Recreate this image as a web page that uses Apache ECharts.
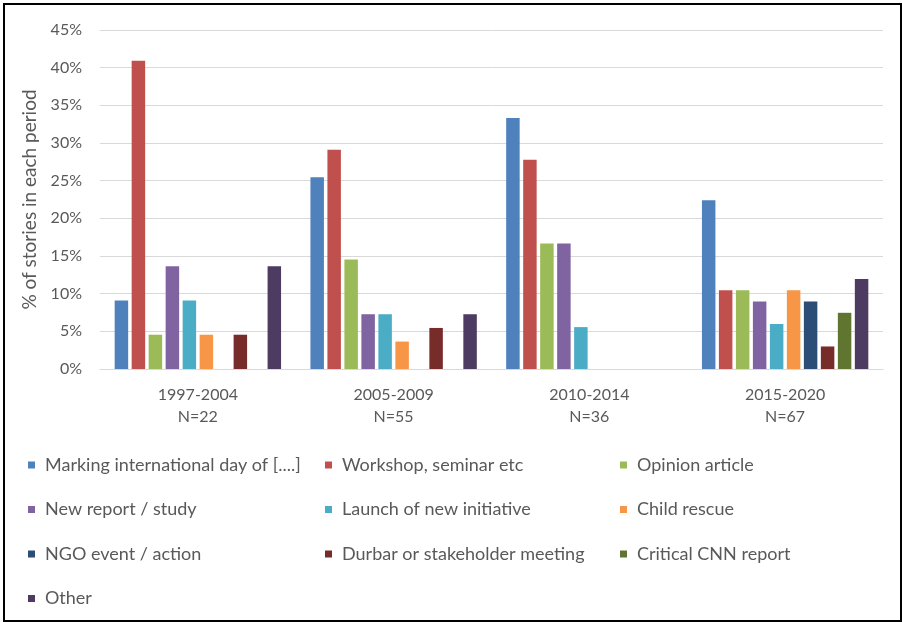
<!DOCTYPE html>
<html>
<head>
<meta charset="utf-8">
<script src="https://cdn.jsdelivr.net/npm/echarts@6/dist/echarts.min.js"></script>
<style>
  html, body { margin: 0; padding: 0; background: #ffffff; }
  #chart { width: 902px; height: 622px; }
</style>
</head>
<body>
<div id="chart"></div>
<script>
// Story types by period, as % of stories in each period
const periods = ['1997-2004', '2005-2009', '2010-2014', '2015-2020'];
const periodSizes = ['N=22', 'N=55', 'N=36', 'N=67'];
const yTicks = [0, 5, 10, 15, 20, 25, 30, 35, 40, 45];

const seriesNames = [
  'Marking international day of [....]',
  'Workshop, seminar etc',
  'Opinion article',
  'New report / study',
  'Launch of new initiative',
  'Child rescue',
  'NGO event / action',
  'Durbar or stakeholder meeting',
  'Critical CNN report',
  'Other'
];

const markingDay   = [9.09, 25.45, 33.33, 22.39];
const workshop     = [40.91, 29.09, 27.78, 10.45];
const opinion      = [4.55, 14.55, 16.67, 10.45];
const newReport    = [13.64, 7.27, 16.67, 8.96];
const launch       = [9.09, 7.27, 5.56, 5.97];
const childRescue  = [4.55, 3.64, 0, 10.45];
const ngoEvent     = [0, 0, 0, 8.96];
const durbar       = [4.55, 5.45, 0, 2.99];
const criticalCNN  = [0, 0, 0, 7.46];
const other        = [13.64, 7.27, 0, 11.94];

const seriesValues = [markingDay, workshop, opinion, newReport, launch,
                      childRescue, ngoEvent, durbar, criticalCNN, other];

const colors = ['#4F81BD', '#C0504D', '#9BBB59', '#8064A2', '#4BACC6',
                '#F79646', '#2C4D75', '#772C2A', '#5F7530', '#4D3B62'];

const textGrey = '#595959';
const fontFamily = 'Lato, "Open Sans", sans-serif';

const chart = echarts.init(document.getElementById('chart'), null, { renderer: 'canvas' });

function legendColumn(names, left) {
  return {
    orient: 'vertical',
    left: left,
    top: 450,
    itemWidth: 7,
    itemHeight: 7,
    itemGap: 24.5,
    icon: 'rect',
    selectedMode: false,
    data: names,
    textStyle: {
      color: textGrey,
      fontFamily: fontFamily,
      fontSize: 18,
      lineHeight: 20,
      padding: [0, 0, 0, 5]
    }
  };
}

const option = {
  backgroundColor: '#ffffff',
  color: colors,
  animation: false,
  grid: { left: 100, right: 19, top: 30, bottom: 253, containLabel: false },
  legend: [
    legendColumn([seriesNames[0], seriesNames[3], seriesNames[6], seriesNames[9]], 23),
    legendColumn([seriesNames[1], seriesNames[4], seriesNames[7]], 320),
    legendColumn([seriesNames[2], seriesNames[5], seriesNames[8]], 615)
  ],
  xAxis: {
    type: 'category',
    data: periods.map((p, i) => p + '\n' + periodSizes[i]),
    axisTick: { show: false },
    axisLine: { lineStyle: { color: '#d9d9d9', width: 1 } },
    axisLabel: {
      color: textGrey,
      fontFamily: fontFamily,
      fontSize: 16,
      lineHeight: 22,
      margin: 15
    }
  },
  yAxis: {
    type: 'value',
    min: yTicks[0],
    max: yTicks[yTicks.length - 1],
    interval: 5,
    name: '% of stories in each period',
    nameLocation: 'middle',
    nameGap: 58,
    nameTextStyle: { color: textGrey, fontFamily: fontFamily, fontSize: 19 },
    axisLine: { show: false },
    axisTick: { show: false },
    splitLine: { lineStyle: { color: '#d9d9d9', width: 1 } },
    axisLabel: {
      color: textGrey,
      fontFamily: fontFamily,
      fontSize: 16,
      margin: 18,
      formatter: v => v + '%'
    }
  },
  series: seriesNames.map((name, i) => ({
    name: name,
    type: 'bar',
    data: seriesValues[i],
    barCategoryGap: '15%',
    barGap: '26%',
    itemStyle: { color: colors[i] }
  })),
  graphic: [{
    type: 'rect',
    shape: { x: 4, y: 4, width: 897, height: 617 },
    style: { fill: 'none', stroke: '#000000', lineWidth: 2 },
    silent: true,
    z: 100
  }]
};

chart.setOption(option);
</script>
</body>
</html>
